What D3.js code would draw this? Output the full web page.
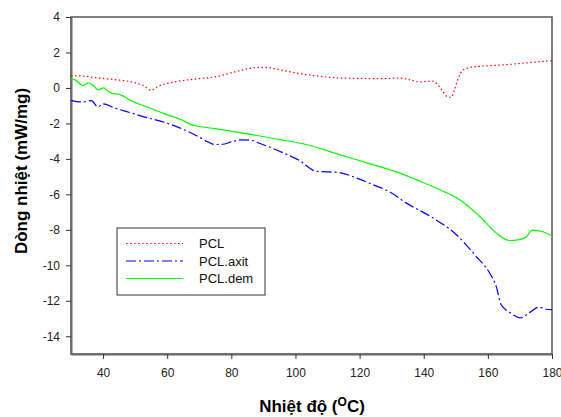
<!DOCTYPE html>
<html>
<head>
<meta charset="utf-8">
<script src="https://cdn.jsdelivr.net/npm/d3@7"></script>
<style>
  body { margin: 0; background: #fff; }
  svg { display: block; font-family: Arial, "Liberation Sans", sans-serif; }
</style>
</head>
<body>
<svg id="chart"></svg>
<script>
// Temperature (°C) and heat flow (mW/mg)
const pclT = [30, 33, 38, 43.6, 48.8, 53, 54.9, 57.1, 62.3, 69.6, 74.8, 80, 83, 87, 90, 95, 100, 103.4, 108, 113.7, 120, 126, 132, 136, 138.7, 142.8, 144, 145.4, 147.5, 148.5, 149.6, 150.6, 152.4, 155, 157.4, 161, 165.7, 170, 175, 180];
const pclV = [0.69, 0.68, 0.57, 0.47, 0.34, 0.09, -0.13, 0.09, 0.34, 0.52, 0.62, 0.85, 0.99, 1.14, 1.16, 1.03, 0.85, 0.75, 0.65, 0.56, 0.54, 0.52, 0.56, 0.45, 0.34, 0.39, 0.25, -0.04, -0.51, -0.53, -0.10, 0.47, 1.03, 1.17, 1.22, 1.26, 1.31, 1.38, 1.46, 1.54];

const axitT = [30, 33.3, 36.4, 38.4, 40, 43.6, 48.8, 54, 59.2, 64.4, 69.6, 72.7, 74.8, 77.9, 80, 83.1, 86, 88.8, 95, 101.3, 106.5, 113.7, 118.9, 124.1, 129.3, 134.5, 142.8, 150.1, 156.3, 160.5, 162.6, 164.1, 166.7, 170.3, 172.9, 176, 178.6, 180];
const axitV = [-0.70, -0.79, -0.72, -1.07, -0.90, -1.13, -1.41, -1.69, -1.94, -2.29, -2.73, -3.04, -3.19, -3.16, -3.04, -2.93, -2.95, -3.12, -3.57, -4.10, -4.70, -4.77, -5.07, -5.45, -5.85, -6.48, -7.32, -8.26, -9.49, -10.42, -11.18, -12.21, -12.64, -12.96, -12.68, -12.36, -12.49, -12.5];

const demT = [30, 31.2, 33.8, 35.3, 36.9, 38.4, 40.3, 41.6, 43.1, 44.7, 46.8, 48.8, 54, 59.2, 64.4, 67.5, 69.6, 74.8, 80, 84.1, 95, 103.4, 113.7, 124.1, 132.4, 137.6, 144.9, 151.1, 157.4, 162.6, 166.7, 169.8, 171.9, 173.9, 177.1, 180];
const demV = [0.52, 0.47, 0.13, 0.28, 0.15, -0.10, 0.00, -0.19, -0.32, -0.34, -0.51, -0.72, -1.09, -1.46, -1.79, -2.07, -2.16, -2.29, -2.44, -2.56, -2.91, -3.19, -3.76, -4.32, -4.79, -5.17, -5.73, -6.29, -7.23, -8.17, -8.60, -8.55, -8.40, -8.02, -8.11, -8.35];

const seriesNames = ["PCL", "PCL.axit", "PCL.dem"];
const xTicks = [40, 60, 80, 100, 120, 140, 160, 180];
const yTicks = [4, 2, 0, -2, -4, -6, -8, -10, -12, -14];

const series = [
  { name: seriesNames[0], color: "#ff0000", dash: "1.5,2.5", pts: pclT.map((t, i) => [t, pclV[i]]) },
  { name: seriesNames[1], color: "#0000ff", dash: "10,3,2,3", pts: axitT.map((t, i) => [t, axitV[i]]) },
  { name: seriesNames[2], color: "#00ff00", dash: null, pts: demT.map((t, i) => [t, demV[i]]) },
];

const W = 561, H = 417;
const margin = { top: 17, right: 9, bottom: 63, left: 71 };
const width = W - margin.left - margin.right;
const height = H - margin.top - margin.bottom;

const svg = d3.select("#chart").attr("width", W).attr("height", H);
const g = svg.append("g").attr("transform", `translate(${margin.left},${margin.top})`);

const x = d3.scaleLinear().domain([30, 180]).range([0, width]);
const y = d3.scaleLinear().domain([-15, 4]).range([height, 0]);

// frame
g.append("rect")
  .attr("width", width).attr("height", height)
  .attr("fill", "none").attr("stroke", "#555").attr("stroke-width", 1.5);

// axes (plain hyphen for negatives, like the original)
const fmt = (d) => String(d);
const xAxis = g.append("g")
  .attr("transform", `translate(0,${height})`)
  .call(d3.axisBottom(x).tickValues(xTicks).tickFormat(fmt).tickSize(5).tickPadding(9).tickSizeOuter(0));
const yAxis = g.append("g")
  .call(d3.axisLeft(y).tickValues(yTicks).tickFormat(fmt).tickSize(5).tickPadding(6).tickSizeOuter(0));

[xAxis, yAxis].forEach((a) => {
  a.select(".domain").attr("stroke", "#6a6a6a").attr("stroke-width", 2);
  a.selectAll(".tick line").attr("stroke", "#333");
  a.selectAll(".tick text").attr("fill", "#222").style("font-size", "12px").style("font-family", "Arial, 'Liberation Sans', sans-serif");
});

// lines
const line = d3.line()
  .x((d) => x(d[0]))
  .y((d) => y(d[1]))
  .curve(d3.curveMonotoneX);

g.selectAll(".series")
  .data(series)
  .enter()
  .append("path")
  .attr("class", "series")
  .attr("d", (d) => line(d.pts))
  .attr("fill", "none")
  .attr("stroke", (d) => d.color)
  .attr("stroke-width", 1.2)
  .attr("stroke-dasharray", (d) => d.dash);

// legend
const legend = svg.append("g").attr("transform", "translate(117,228)");
legend.append("rect")
  .attr("width", 148).attr("height", 67)
  .attr("fill", "#fff").attr("stroke", "#333").attr("stroke-width", 1);

const item = legend.selectAll(".item")
  .data(series)
  .enter()
  .append("g")
  .attr("class", "item")
  .attr("transform", (d, i) => `translate(0,${15.5 + i * 17.5})`);

item.append("line")
  .attr("x1", 9).attr("x2", 66)
  .attr("stroke", (d) => d.color)
  .attr("stroke-width", 1.2)
  .attr("stroke-dasharray", (d) => d.dash);

item.append("text")
  .attr("x", 82).attr("y", 4.5)
  .style("font-size", "13px")
  .attr("fill", "#111")
  .text((d) => d.name);

// axis titles
const xTitle = svg.append("text")
  .attr("x", 312).attr("y", 412)
  .attr("text-anchor", "middle")
  .style("font-size", "17px").style("font-weight", "bold");
xTitle.append("tspan").text("Nhiệt độ (");
xTitle.append("tspan").attr("dy", -6).style("font-size", "12px").text("O");
xTitle.append("tspan").attr("dy", 6).text("C)");

svg.append("text")
  .attr("transform", "translate(27,171) rotate(-90)")
  .attr("text-anchor", "middle")
  .style("font-size", "17px").style("font-weight", "bold")
  .text("Dòng nhiệt (mW/mg)");
</script>
</body>
</html>
